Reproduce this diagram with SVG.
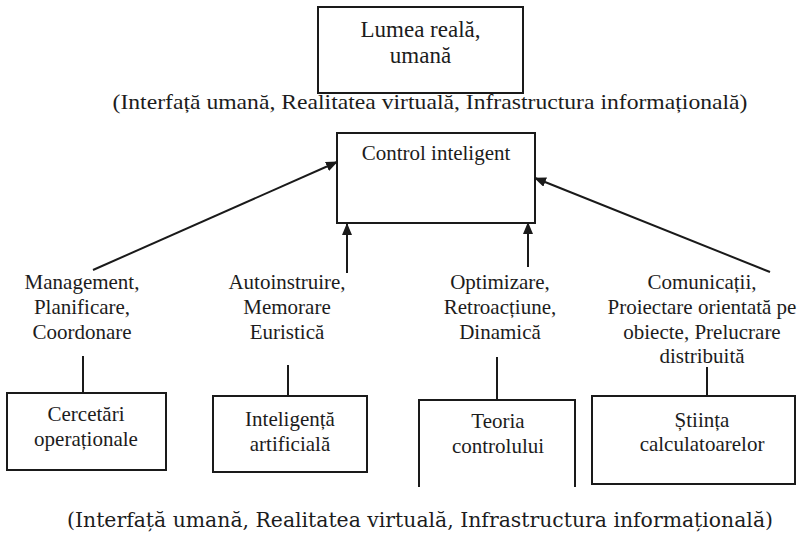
<svg xmlns="http://www.w3.org/2000/svg" width="802" height="543" viewBox="0 0 802 543">
  <style>
    .box { fill: #ffffff; stroke: #1a1a1a; stroke-width: 2; }
    .t { fill: #1c1c1c; text-anchor: middle; }
    .lbl { font-size: 21px; }
    .link { stroke: #1a1a1a; stroke-width: 2; fill: none; }
  </style>
  <defs>
    <marker id="head" viewBox="0 0 12 10" refX="11" refY="5" markerWidth="12" markerHeight="10" markerUnits="userSpaceOnUse" orient="auto">
      <path d="M0,0 L12,5 L0,10 Z" fill="#1a1a1a"/>
    </marker>
  </defs>
  <rect width="802" height="543" fill="#ffffff"/>

  <g font-family="Liberation Serif, serif">
  <g id="lumea-reala">
    <rect class="box" x="318" y="7" width="205" height="86"/>
    <text class="t" x="420.5" y="37" font-size="23">Lumea reală,</text>
    <text class="t" x="420.5" y="63" font-size="23">umană</text>
  </g>

  <text class="t" x="430" y="109" font-size="22" textLength="635" lengthAdjust="spacingAndGlyphs">(Interfață umană, Realitatea virtuală, Infrastructura informațională)</text>

  <g id="control-inteligent">
    <rect class="box" x="337" y="133" width="198" height="90"/>
    <text class="t" x="436" y="160" font-size="21">Control inteligent</text>
  </g>

  <g id="management">
    <text class="t lbl" x="82" y="289">Management,</text>
    <text class="t lbl" x="82" y="314">Planificare,</text>
    <text class="t lbl" x="82" y="339">Coordonare</text>
  </g>
  <g id="autoinstruire">
    <text class="t lbl" x="287" y="289">Autoinstruire,</text>
    <text class="t lbl" x="287" y="314">Memorare</text>
    <text class="t lbl" x="287" y="339">Euristică</text>
  </g>
  <g id="optimizare">
    <text class="t lbl" x="500" y="289">Optimizare,</text>
    <text class="t lbl" x="500" y="314">Retroacțiune,</text>
    <text class="t lbl" x="500" y="339">Dinamică</text>
  </g>
  <g id="comunicatii">
    <text class="t lbl" x="702" y="289">Comunicații,</text>
    <text class="t lbl" x="702" y="314">Proiectare orientată pe</text>
    <text class="t lbl" x="702" y="339">obiecte, Prelucrare</text>
    <text class="t lbl" x="702" y="363">distribuită</text>
  </g>

  <g id="cercetari-operationale">
    <rect class="box" x="7" y="393" width="159" height="77"/>
    <text class="t lbl" x="86" y="421">Cercetări</text>
    <text class="t lbl" x="86" y="446">operaționale</text>
  </g>
  <g id="inteligenta-artificiala">
    <rect class="box" x="213" y="396" width="154" height="76"/>
    <text class="t lbl" x="290" y="426">Inteligență</text>
    <text class="t lbl" x="290" y="451">artificială</text>
  </g>
  <g id="teoria-controlului">
    <path class="link" d="M419,487 V400 H575 V487"/>
    <text class="t lbl" x="498" y="428">Teoria</text>
    <text class="t lbl" x="498" y="453">controlului</text>
  </g>
  <g id="stiinta-calculatoarelor">
    <rect class="box" x="592" y="396" width="203" height="88"/>
    <text class="t lbl" x="702" y="427">Știința</text>
    <text class="t lbl" x="702" y="451">calculatoarelor</text>
  </g>
  </g>

  <text class="t" x="420" y="527" font-family="DejaVu Serif, serif" font-size="20" textLength="706" lengthAdjust="spacingAndGlyphs">(Interfață umană, Realitatea virtuală, Infrastructura informațională)</text>

  <g id="connectors">
    <line class="link" x1="93" y1="270" x2="337" y2="162" marker-end="url(#head)"/>
    <line class="link" x1="347" y1="273" x2="347" y2="224" marker-end="url(#head)"/>
    <line class="link" x1="528" y1="267" x2="528" y2="223" marker-end="url(#head)"/>
    <line class="link" x1="770" y1="272" x2="535" y2="178" marker-end="url(#head)"/>
    <line class="link" x1="83" y1="356" x2="83" y2="393"/>
    <line class="link" x1="288" y1="365" x2="288" y2="396"/>
    <line class="link" x1="497" y1="357" x2="497" y2="400"/>
    <line class="link" x1="707" y1="367" x2="707" y2="396"/>
  </g>
</svg>
